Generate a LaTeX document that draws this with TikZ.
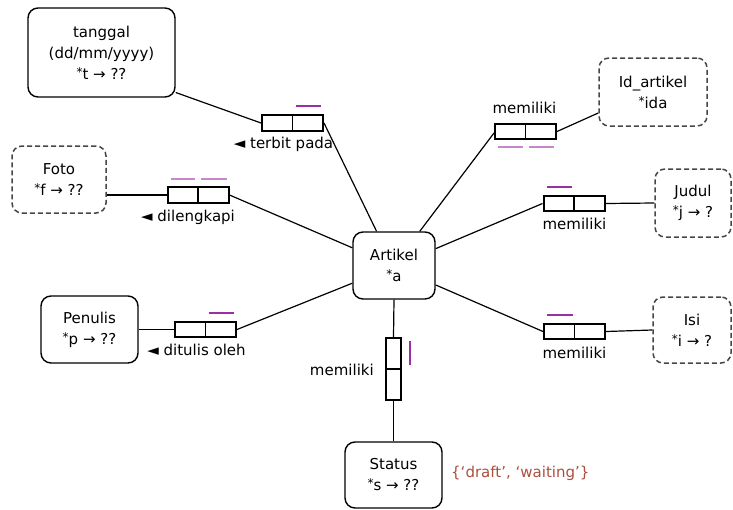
\documentclass[tikz,border=0pt]{standalone}
\usepackage{fontspec}
\setmainfont{DejaVu Sans}
\usetikzlibrary{calc}
\definecolor{rolepurple}{RGB}{155,45,165}
\definecolor{lightpurple}{RGB}{200,135,205}
\definecolor{valcol}{RGB}{170,80,60}
\definecolor{dashgray}{RGB}{70,70,70}
\newcommand{\refstar}{\raisebox{3pt}{\fontsize{12}{12}\selectfont *}}
\begin{document}
\begin{tikzpicture}[x=1pt,y=-1pt,
  font=\fontsize{15}{21}\selectfont,
  ent/.style={draw, rounded corners=10pt, line width=1.4pt, align=center, inner sep=0pt},
  valent/.style={ent, draw=dashgray, line width=1.5pt, dash pattern=on 5pt off 3pt},
  rolebox/.style={draw, line width=2pt, minimum width=61pt, minimum height=15.5pt, inner sep=0pt},
  vrolebox/.style={draw, line width=2pt, minimum width=15.5pt, minimum height=62pt, inner sep=0pt},
  divider/.style={line width=1.6pt},
  conn/.style={line width=1.2pt},
  lbl/.style={inner sep=0pt},
  ubar/.style={line width=2pt, rolepurple},
  ubarlight/.style={line width=2pt, lightpurple}
]
\useasboundingbox (0,0) rectangle (733,509);

% entity and value nodes
\node[ent, minimum width=147pt, minimum height=89pt] (tg) at (101.5,52.5) {tanggal\\(dd/mm/yyyy)\\\refstar t → ??};
\node[valent, minimum width=94pt, minimum height=67pt] (foto) at (59,179.5) {Foto\\\refstar f → ??};
\node[valent, minimum width=108pt, minimum height=68pt] (ida) at (653,92) {Id\_artikel\\\refstar ida};
\node[valent, minimum width=76pt, minimum height=68pt] (jd) at (693,203) {Judul\\\refstar j → ?};
\node[ent, minimum width=82pt, minimum height=67pt] (art) at (394,265.5) {Artikel\\\refstar a};
\node[valent, minimum width=78pt, minimum height=66pt] (isi) at (692,330) {Isi\\\refstar i → ?};
\node[ent, minimum width=97pt, minimum height=67pt] (pen) at (89.5,329.5) {Penulis\\\refstar p → ??};
\node[ent, minimum width=97pt, minimum height=66pt] (st) at (393.5,475) {Status\\\refstar s → ??};

% role boxes
\node[rolebox] (r1) at (292.5,123) {};
\node[rolebox] (r2) at (198,195) {};
\node[rolebox] (r3) at (525.5,131.5) {};
\node[rolebox] (r4) at (574,203.5) {};
\node[rolebox] (r5) at (574.5,331.5) {};
\node[rolebox] (r6) at (205.5,329.5) {};
\node[vrolebox] (r7) at (393.5,369) {};
\foreach \r in {r1,r2,r3,r4,r5,r6} \draw[divider] (\r.north) -- (\r.south);
\draw[divider] (r7.west) -- (r7.east);

% connectors
\coordinate (tgp) at ($(tg.east)+(0,40)$);
\coordinate (idp) at ($(ida.west)+(0,21)$);
\coordinate (fop) at ($(foto.east)+(0,15.5)$);
\draw[conn] (tgp) -- (r1.west);
\draw[conn] (r1.east) -- (art.117);
\draw[conn] (fop) -- (r2.west);
\draw[conn] (r2.east) -- (art.157);
\draw[conn] (art.53) -- ($(r3.west)+(0,1.5)$);
\draw[conn] (r3.east) -- (idp);
\draw[conn] (art.22) -- (r4.west);
\draw[conn] (r4.east) -- (jd.west);
\draw[conn] (art.-25) -- (r5.west);
\draw[conn] (r5.east) -- (isi.west);
\draw[conn] (pen.east) -- (r6.west);
\draw[conn] (r6.east) -- (art.203);
\draw[conn] (art.south) -- (r7.north);
\draw[conn] (r7.south) -- (st.north);

% uniqueness bars
\draw[ubar] ($(r1.north)+(3,-8)$) -- ($(r1.north east)+(-3,-8)$);
\draw[ubarlight] ($(r2.north west)+(4,-7)$) -- ($(r2.north)+(-3,-7)$);
\draw[ubarlight] ($(r2.north)+(3,-7)$) -- ($(r2.north east)+(-3,-7)$);
\draw[ubarlight] ($(r3.south west)+(4,7)$) -- ($(r3.south)+(-3,7)$);
\draw[ubarlight] ($(r3.south)+(3,7)$) -- ($(r3.south east)+(-3,7)$);
\draw[ubar] ($(r4.north west)+(4,-8)$) -- ($(r4.north)+(-2,-8)$);
\draw[ubar] ($(r5.north west)+(4,-8)$) -- ($(r5.north)+(-2,-8)$);
\draw[ubar] ($(r6.north)+(3,-8)$) -- ($(r6.north east)+(-3,-8)$);
\draw[ubar] ($(r7.north east)+(8,4)$) -- ($(r7.east)+(8,-4)$);

% role labels
\node[lbl] (l1) at (283.5,144) {◄ terbit pada};
\node[lbl] (l2) at (188,217) {◄ dilengkapi};
\node[lbl] (l3) at (524.5,108) {memiliki};
\node[lbl] (l4) at (574.5,224) {memiliki};
\node[lbl] (l5) at (574.5,353) {memiliki};
\node[lbl] (l6) at (196.5,350) {◄ ditulis oleh};
\node[lbl, anchor=east] (l7) at (374,370) {memiliki};
\node[lbl, anchor=west, text=valcol] (vc) at (451,473) {\{‘draft’, ‘waiting’\}};
\end{tikzpicture}
\end{document}
